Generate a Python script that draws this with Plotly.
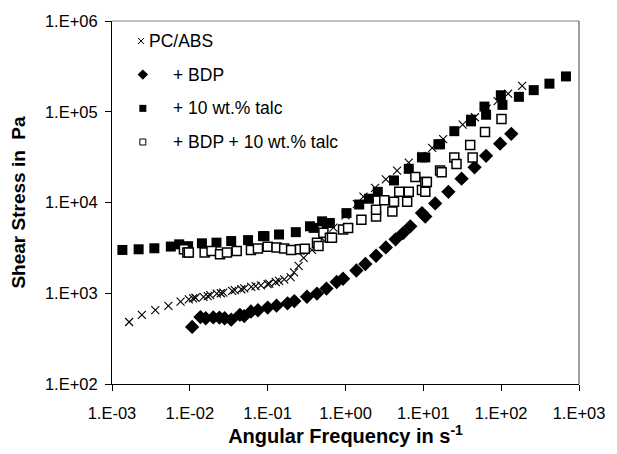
import plotly.graph_objects as go

# ---------------- data ----------------
pcabs_x = [0.00166, 0.00242, 0.0036, 0.0053, 0.0076, 0.0097, 0.011, 0.0118, 0.015, 0.017,
           0.0183, 0.0222, 0.025, 0.0269, 0.035, 0.0378, 0.0459, 0.05, 0.0615, 0.07, 0.082,
           0.1, 0.105, 0.127, 0.14, 0.163, 0.197, 0.218, 0.25, 0.29, 0.37, 0.5, 0.7, 1.0,
           1.4, 1.7, 2.4, 3.3, 4.6, 6.5, 9.6, 13, 18, 25, 32, 46, 65, 90, 123, 186]
pcabs_y = [482, 578, 650, 724, 808, 855, 880, 892, 914, 930,
           952, 993, 1000, 1018, 1060, 1080, 1107, 1130, 1175, 1200, 1223,
           1260, 1275, 1330, 1370, 1420, 1507, 1700, 2000, 2450, 3000, 4000, 5300, 7200,
           9600, 11600, 14500, 18000, 22500, 27500, 32700, 40000, 50000, 60000, 72000,
           87000, 108000, 131000, 158000, 193000]

bdp_x = [0.0107, 0.0137, 0.016, 0.02, 0.024, 0.028, 0.034, 0.044, 0.05, 0.061, 0.075,
         0.1, 0.13, 0.18, 0.22, 0.32, 0.43, 0.57, 0.77, 0.93, 1.38, 1.8, 2.47, 3.3, 4.4,
         5.5, 6.8, 9.6, 10.6, 14.2, 21, 31, 45.5, 64, 97, 135]
bdp_y = [426, 546, 530, 542, 540, 530, 511, 578, 560, 629, 650,
         695, 730, 774, 820, 915, 993, 1125, 1330, 1445, 1780, 2100, 2590, 3200, 3930,
         4600, 5470, 7640, 7000, 9770, 13100, 18300, 24400, 32700, 44500, 57100]

talc_x = [0.00136, 0.0022, 0.0035, 0.0057, 0.0073, 0.0095, 0.0143, 0.022, 0.034, 0.056,
          0.087, 0.091, 0.14, 0.23, 0.35, 0.39, 0.5, 0.575, 0.63, 1.03, 1.5, 2.0, 2.6,
          4.2, 6.5, 9.6, 10.6, 15.6, 16.4, 25, 41, 41, 61, 64, 99, 104, 169, 262, 417, 680]
talc_y = [3000, 3050, 3130, 3270, 3460, 3300, 3550, 3610, 3760, 3850,
          4260, 4260, 4440, 4710, 5470, 5250, 6200, 5940, 5940, 7640, 9500, 11000, 13100,
          17500, 23500, 31400, 31400, 43800, 43800, 61100, 81800, 78400, 114000, 92700,
          152000, 119000, 146000, 173000, 204000, 245000]

bdptalc_x = [0.0084, 0.0093, 0.0097, 0.0155, 0.019, 0.0244, 0.03, 0.04, 0.061, 0.075,
             0.1, 0.13, 0.163, 0.2, 0.26, 0.3, 0.43, 0.45, 0.52, 0.63, 0.67, 0.93, 1.08,
             1.6, 2.47, 2.47, 3.15, 4.0, 4.2, 4.9, 6.2, 6.5, 7.9, 9.6, 10.6, 10.6, 11.1,
             16.4, 17.2, 25, 26.7, 40, 43, 62, 101]
bdptalc_y = [3050, 2810, 2810, 2810, 2930, 2690, 2810, 2930, 3000, 3110,
             3250, 3190, 3110, 3000, 3050, 3100, 3600, 3320, 4630, 4090, 4090, 5040, 5250,
             6450, 7010, 8300, 10600, 7940, 10200, 13100, 10200, 13100, 19100, 13700,
             16800, 13100, 16800, 22500, 21600, 31400, 26600, 43100, 31400, 60000, 83000]

legend_labels = ["PC/ABS", "+ BDP", "+ 10 wt.% talc", "+ BDP + 10 wt.% talc"]
x_tickvals = [1e-3, 1e-2, 1e-1, 1e0, 1e1, 1e2, 1e3]
x_ticktext = ["1.E-03", "1.E-02", "1.E-01", "1.E+00", "1.E+01", "1.E+02", "1.E+03"]
y_tickvals = [1e2, 1e3, 1e4, 1e5, 1e6]
y_ticktext = ["1.E+02", "1.E+03", "1.E+04", "1.E+05", "1.E+06"]

# ---------------- layout geometry ----------------
W, H = 617, 454
L, R, T, B = 112, 31, 18, 67
FONT = "Liberation Sans, Arial, sans-serif"

styles = [
    dict(symbol="x-thin", size=8, color="black", line=dict(width=1.1, color="black")),
    dict(symbol="diamond", size=11, color="black", line=dict(width=0)),
    dict(symbol="square", size=10, color="black", line=dict(width=0)),
    dict(symbol="square", size=9, color="white", line=dict(width=1.5, color="black")),
]

fig = go.Figure()
series = [(pcabs_x, pcabs_y), (bdp_x, bdp_y), (talc_x, talc_y), (bdptalc_x, bdptalc_y)]
for (xs, ys), st, name in zip(series, styles, legend_labels):
    fig.add_trace(go.Scatter(x=xs, y=ys, mode="markers", marker=st, name=name,
                             showlegend=False, cliponaxis=False))

# manual legend (Excel-like), in pixel positions converted to paper coords
pw, ph = W - L - R, H - T - B
def px2paper(px, py):
    return (px - L) / pw, (H - B - py) / ph

leg_rows_y = [38.3, 72.5, 106.8, 141.0]
leg_mark_x = [141.5, 143.3, 143.3, 143.3]
leg_text_x = [147.5, 171.7, 171.7, 171.7]
leg_styles = [
    dict(symbol="x-thin", size=6, color="black", line=dict(width=1, color="black")),
    dict(symbol="diamond", size=8, color="black", line=dict(width=0)),
    dict(symbol="square", size=7, color="black", line=dict(width=0)),
    dict(symbol="square", size=6, color="white", line=dict(width=1, color="black")),
]
for i in range(4):
    mx, my = px2paper(leg_mark_x[i], leg_rows_y[i])
    fig.add_trace(go.Scatter(x=[mx], y=[my], xaxis="x2", yaxis="y2", mode="markers",
                             marker=leg_styles[i], showlegend=False, hoverinfo="skip"))
    tx, ty = px2paper(leg_text_x[i], leg_rows_y[i])
    fig.add_annotation(x=tx, y=ty, xref="paper", yref="paper", text=legend_labels[i],
                       showarrow=False, xanchor="left", yanchor="middle",
                       font=dict(family=FONT, size=17.5, color="black"))

axis_common = dict(showgrid=False, zeroline=False, ticks="outside", ticklen=6,
                   tickwidth=1, tickcolor="black", showline=True, linecolor="black",
                   linewidth=1, tickfont=dict(family=FONT, size=16.5, color="black"))

fig.update_layout(
    width=W, height=H,
    margin=dict(l=L, r=R, t=T, b=B, pad=0),
    paper_bgcolor="white", plot_bgcolor="white",
    showlegend=False,
    xaxis=dict(type="log", range=[-3, 3], tickvals=x_tickvals, ticktext=x_ticktext,
               ticklabelstandoff=8,
               title=dict(text="<b>Angular Frequency in s<sup>-1</sup></b>",
                          font=dict(family=FONT, size=20, color="black"), standoff=6),
               **axis_common),
    yaxis=dict(type="log", range=[2, 6], tickvals=y_tickvals, ticktext=y_ticktext,
               ticklabelstandoff=4,
               title=dict(text="<b>Shear Stress in&nbsp; Pa</b>",
                          font=dict(family=FONT, size=19, color="black"), standoff=14),
               **axis_common),
    xaxis2=dict(overlaying="x", range=[0, 1], visible=False, fixedrange=True),
    yaxis2=dict(overlaying="y", range=[0, 1], visible=False, fixedrange=True),
    shapes=[
        dict(type="line", xref="paper", yref="paper", x0=0, x1=1, y0=1, y1=1,
             line=dict(color="#808080", width=1)),
        dict(type="line", xref="paper", yref="paper", x0=1, x1=1, y0=0, y1=1,
             line=dict(color="#404040", width=1)),
    ],
)

fig.write_html("out.html")
